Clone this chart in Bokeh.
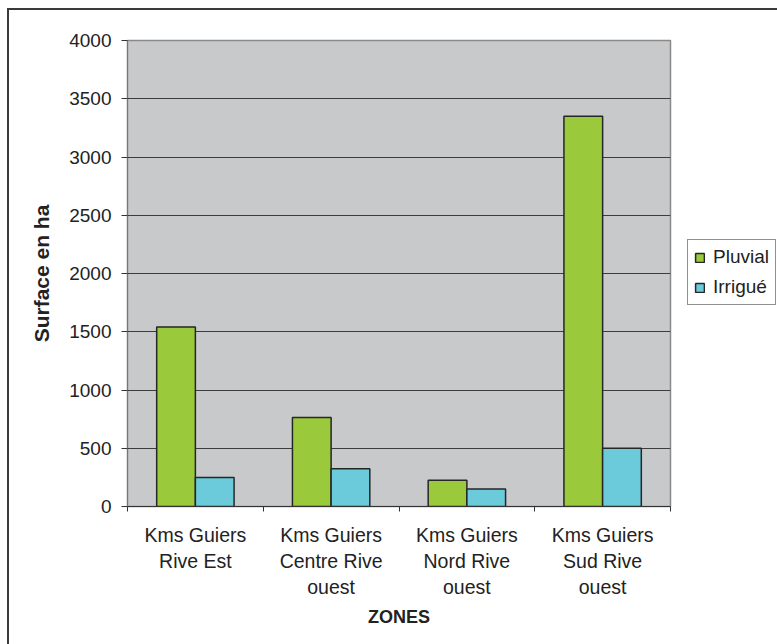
from bokeh.plotting import figure
from bokeh.models import ColumnDataSource, Range1d, FixedTicker, Legend, LegendItem
from bokeh.transform import dodge
from bokeh.embed import file_html
from bokeh.resources import INLINE

zones = ["Kms Guiers\nRive Est", "Kms Guiers\nCentre Rive\nouest",
         "Kms Guiers\nNord Rive\nouest", "Kms Guiers\nSud Rive\nouest"]
pluvial = [1540, 765, 225, 3350]
irrigue = [250, 325, 150, 500]
y_ticks = [0, 500, 1000, 1500, 2000, 2500, 3000, 3500, 4000]

FONT = "Liberation Sans"
BAR_W = 0.285

pos = [i + 0.5 for i in range(len(zones))]
src = ColumnDataSource(dict(pos=pos, pluvial=pluvial, irrigue=irrigue))

p = figure(frame_width=543, frame_height=466, output_backend="svg", toolbar_location=None,
           x_range=Range1d(0, len(zones)), y_range=Range1d(0, 4000),
           min_border_left=118, min_border_right=100, min_border_top=30,
           min_border_bottom=138)
p.styles = {"margin-left": "7px", "margin-top": "8px",
            "border-left": "2px solid #3a3a3a", "border-top": "2px solid #3a3a3a"}

p.background_fill_color = "#C8C9CB"
p.border_fill_color = "white"
p.outline_line_color = "#8a8a8a"
p.outline_line_width = 1.5

r1 = p.vbar(x=dodge("pos", -BAR_W / 2), top="pluvial", width=BAR_W, source=src,
            fill_color="#9ACA3C", line_color="#262626", line_width=1.5)
r2 = p.vbar(x=dodge("pos", BAR_W / 2), top="irrigue", width=BAR_W, source=src,
            fill_color="#6BCBDB", line_color="#262626", line_width=1.5)

# Axes
p.xaxis.ticker = FixedTicker(ticks=pos, minor_ticks=list(range(len(zones) + 1)))
p.xaxis.major_label_overrides = {pp: z for pp, z in zip(pos, zones)}
p.xaxis.major_tick_out = 0
p.xaxis.major_tick_in = 0
p.xaxis.minor_tick_out = 5
p.xaxis.minor_tick_in = 0
p.xaxis.minor_tick_line_color = "#333333"
p.xaxis.axis_line_color = "#333333"
p.xaxis.major_label_standoff = 12
p.xaxis.axis_label = "ZONES"
p.xaxis.axis_label_standoff = 6

p.yaxis.ticker = FixedTicker(ticks=y_ticks)
p.yaxis.major_tick_out = 6
p.yaxis.major_tick_in = 0
p.yaxis.minor_tick_line_color = None
p.yaxis.axis_line_color = "#777777"
p.yaxis.major_tick_line_color = "#333333"
p.yaxis.major_label_standoff = 10
p.yaxis.axis_label = "Surface en ha"
p.yaxis.axis_label_standoff = 13

for ax in (p.xaxis, p.yaxis):
    ax.major_label_text_font = FONT
    ax.major_label_text_color = "#222222"
    ax.axis_label_text_font = FONT
    ax.axis_label_text_font_style = "bold"
    ax.axis_label_text_color = "#222222"
p.xaxis.major_label_text_font_size = "19.5px"
p.yaxis.major_label_text_font_size = "19px"
p.xaxis.axis_label_text_font_size = "18px"
p.yaxis.axis_label_text_font_size = "21px"

p.xgrid.grid_line_color = None
p.ygrid.ticker = FixedTicker(ticks=y_ticks)
p.ygrid.grid_line_color = "#3c3c3c"
p.ygrid.grid_line_width = 1

legend = Legend(items=[LegendItem(label="Pluvial", renderers=[r1]),
                       LegendItem(label="Irrigué", renderers=[r2])],
                location=(17, 201))
legend.label_text_font = FONT
legend.label_text_font_size = "19px"
legend.label_text_color = "#222222"
legend.glyph_width = 11
legend.glyph_height = 11
legend.label_height = 22
legend.label_standoff = 8
legend.spacing = 8
legend.padding = 6
legend.margin = 0
legend.border_line_color = "#222222"
legend.border_line_width = 1
legend.background_fill_alpha = 1
p.add_layout(legend, "right")

open("out.html", "w").write(file_html(p, INLINE))
